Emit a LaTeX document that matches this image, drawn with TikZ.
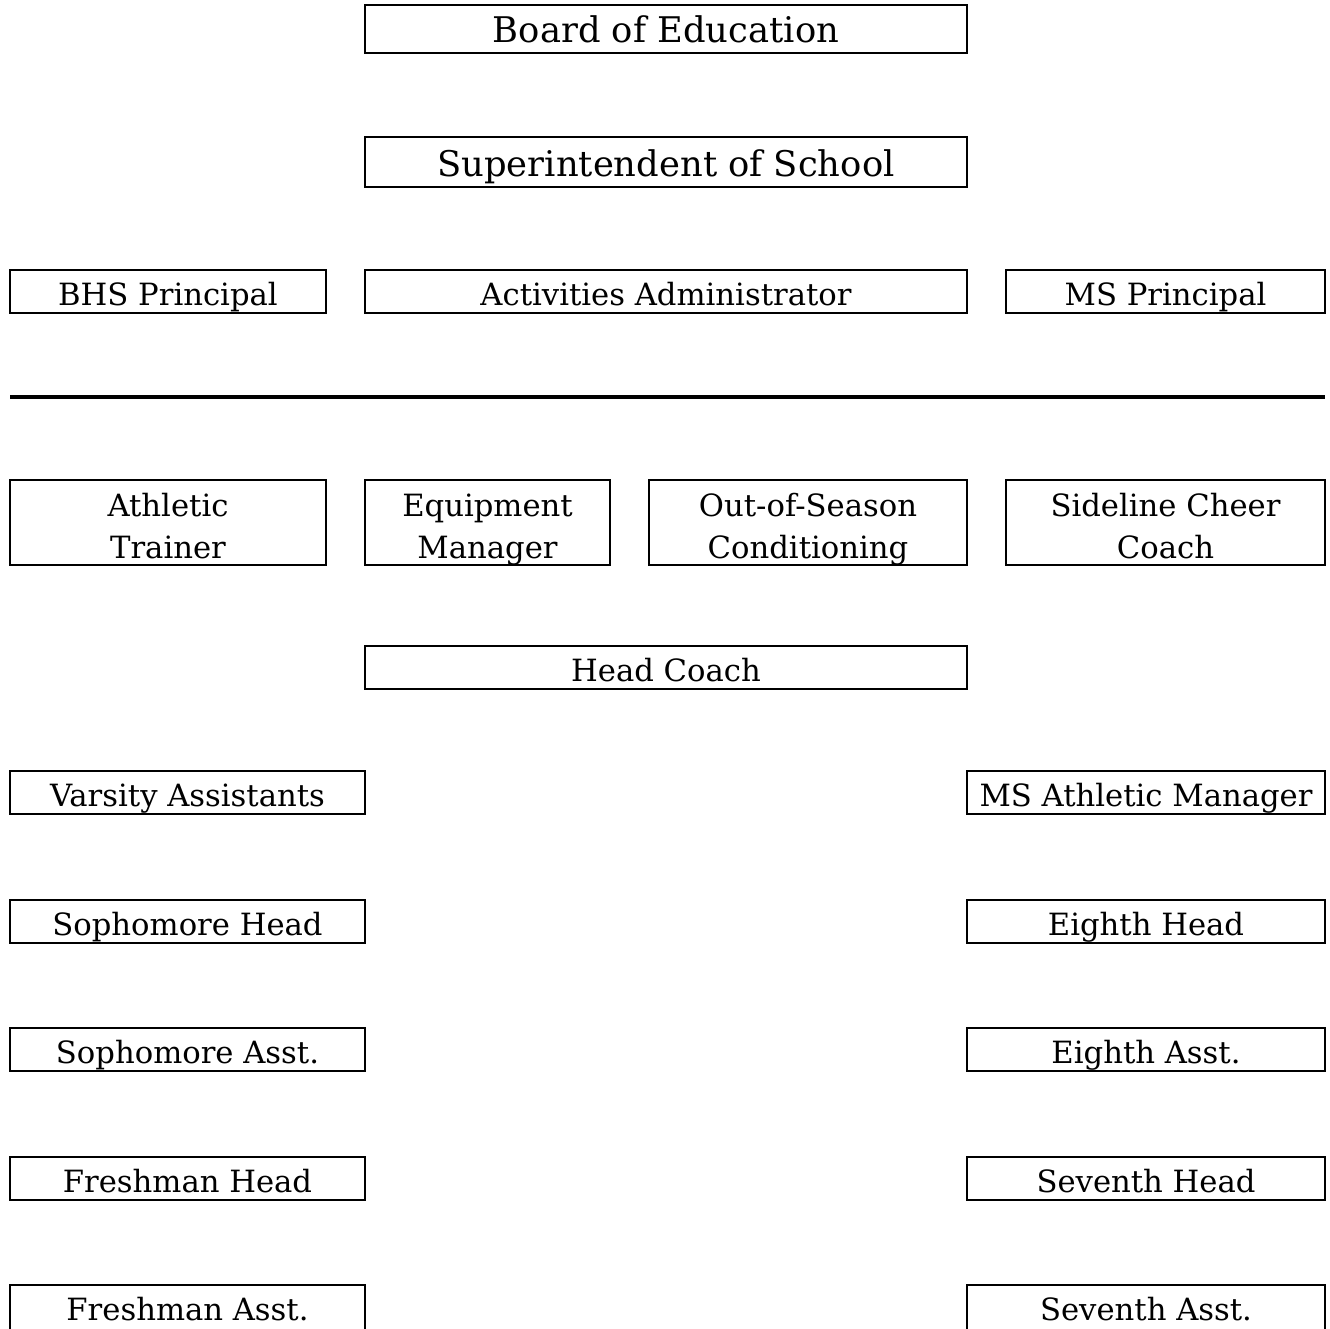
\documentclass[tikz,border=0pt]{standalone}
\usepackage{fontspec}
\setmainfont{DejaVu Serif}
\tikzset{
  box/.style={draw, line width=1.5pt, inner sep=0pt},
  lbl/.style={inner sep=0pt, font=\fontsize{23}{31.5}\selectfont},
  biglbl/.style={lbl, font=\fontsize{26.5}{31.5}\selectfont},
  rule/.style={line width=2.5pt}
}
% name, x1, y1, x2, y2, baseline offset above bottom, label style, text
\newcommand\orgbox[8]{%
  \node[box, minimum width={0.75pt*(#4-#2)}, minimum height={0.75pt*(#5-#3)}] (#1) at ({(#2+#4)/2},{(#3+#5)/2}) {};
  \node[#7, anchor=base] (#1t) at ({(#2+#4)/2},{#5-#6}) {#8};}
% name, x1, y1, x2, y2, first line, second line
\newcommand\orgboxtwo[7]{%
  \node[box, minimum width={0.75pt*(#4-#2)}, minimum height={0.75pt*(#5-#3)}] (#1) at ({(#2+#4)/2},{(#3+#5)/2}) {};
  \node[lbl, anchor=base] (#1a) at ({(#2+#4)/2},{#5-49}) {#6};
  \node[lbl, anchor=base] (#1b) at ({(#2+#4)/2},{#5-7}) {#7};}
\begin{document}
\begin{tikzpicture}[x=0.75pt, y=-0.75pt]
\useasboundingbox (0,0) rectangle (1330,1328);
\orgbox{boe}{365}{5}{967}{53}{11}{biglbl}{Board of Education}
\orgbox{sup}{365}{137}{967}{187}{11}{biglbl}{Superintendent of School}
\orgbox{bhs}{10}{270}{326}{313}{8}{lbl}{BHS Principal}
\orgbox{act}{365}{270}{967}{313}{8}{lbl}{Activities Administrator}
\orgbox{msp}{1006}{270}{1325}{313}{8}{lbl}{MS Principal}
\coordinate (lL) at (10,397);
\coordinate (lR) at (1325,397);
\draw[rule] (lL) -- (lR);
\orgboxtwo{at}{10}{480}{326}{565}{Athletic}{Trainer}
\orgboxtwo{eq}{365}{480}{610}{565}{Equipment}{Manager}
\orgboxtwo{oos}{649}{480}{967}{565}{Out-of-Season}{Conditioning}
\orgboxtwo{chr}{1006}{480}{1325}{565}{Sideline Cheer}{Coach}
\orgbox{hc}{365}{646}{967}{689}{8}{lbl}{Head Coach}
\orgbox{va}{10}{771}{365}{814}{8}{lbl}{Varsity Assistants}
\orgbox{msam}{967}{771}{1325}{814}{8}{lbl}{MS Athletic Manager}
\orgbox{sh}{10}{900}{365}{943}{8}{lbl}{Sophomore Head}
\orgbox{eh}{967}{900}{1325}{943}{8}{lbl}{Eighth Head}
\orgbox{sa}{10}{1028}{365}{1071}{8}{lbl}{Sophomore Asst.}
\orgbox{ea}{967}{1028}{1325}{1071}{8}{lbl}{Eighth Asst.}
\orgbox{fh}{10}{1157}{365}{1200}{8}{lbl}{Freshman Head}
\orgbox{svh}{967}{1157}{1325}{1200}{8}{lbl}{Seventh Head}
\orgbox{fa}{10}{1285}{365}{1331}{11}{lbl}{Freshman Asst.}
\orgbox{sva}{967}{1285}{1325}{1331}{11}{lbl}{Seventh Asst.}
\end{tikzpicture}
\end{document}
